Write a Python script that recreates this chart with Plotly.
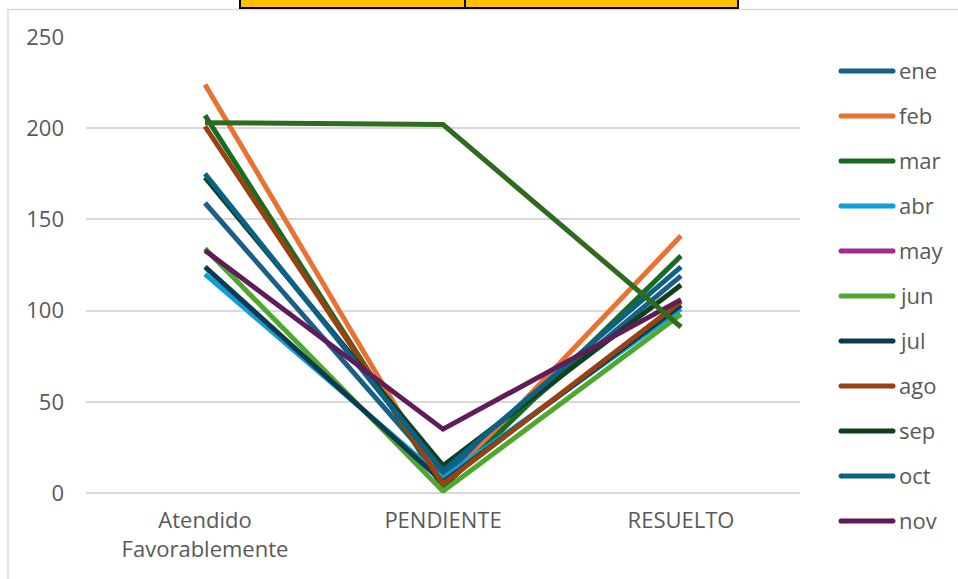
import plotly.graph_objects as go

# Categories on the x axis and their displayed labels
categories = ["Atendido Favorablemente", "PENDIENTE", "RESUELTO"]
tick_labels = ["Atendido<br>Favorablemente", "PENDIENTE", "RESUELTO"]

# Monthly series (Atendido Favorablemente, PENDIENTE, RESUELTO)
months = ["ene", "feb", "mar", "abr", "may", "jun", "jul", "ago", "sep", "oct", "nov", "dic"]
ene = [159, 10, 119]
feb = [224, 4, 141]
mar = [207, 3, 130]
abr = [120, 8, 101]
may = [None, None, None]
jun = [134, 1, 98]
jul = [124, 6, 103]
ago = [201, 5, 105]
sep = [173, 15, 114]
oct_ = [175, 12, 124]
nov = [133, 35, 106]
dic = [203, 202, 91]
series = [ene, feb, mar, abr, may, jun, jul, ago, sep, oct_, nov, dic]

colors = ["#1B5F87", "#E97132", "#196B24", "#0F9ED5", "#A02B93", "#4EA72E",
          "#0E3A50", "#9A4113", "#12401C", "#0A6286", "#601B5A", "#2F6B1F"]
legend_months = months[:11]

y_ticks = [0, 50, 100, 150, 200, 250]

FONT = "Open Sans"
FS = 22
TEXT = "#595959"
GRID = "#D9D9D9"

# plot area in pixels
L, R, T, B = 86, 800, 37, 493
W, H = 958, 579


def px_x(p):
    return (p - L) / (R - L)


def px_y(p):
    return (B - p) / (B - T)


fig = go.Figure()
for name, vals, col in zip(months, series, colors):
    fig.add_trace(go.Scatter(
        x=categories, y=vals, mode="lines", name=name,
        line=dict(color=col, width=5), showlegend=False,
        hoverinfo="x+y+name",
    ))

shapes = []
annotations = []

# outer chart frame (left and top edges)
shapes.append(dict(type="line", xref="paper", yref="paper",
                   x0=px_x(8), x1=px_x(8), y0=px_y(9), y1=px_y(580),
                   line=dict(color=GRID, width=1.5)))
shapes.append(dict(type="line", xref="paper", yref="paper",
                   x0=px_x(8), x1=px_x(960), y0=px_y(9.5), y1=px_y(9.5),
                   line=dict(color=GRID, width=1.5)))

# yellow header cells along the top edge
for x0, x1 in [(240, 465), (465, 738)]:
    shapes.append(dict(type="rect", xref="paper", yref="paper",
                       x0=px_x(x0), x1=px_x(x1), y0=px_y(-3), y1=px_y(8),
                       fillcolor="#FFC000", line=dict(color="#000000", width=2)))

# legend drawn on the right: a rounded line sample and the month name
for i, name in enumerate(legend_months):
    yc = 71 + 45 * i
    shapes.append(dict(type="line", xref="paper", yref="paper",
                       x0=px_x(841), x1=px_x(893), y0=px_y(yc), y1=px_y(yc),
                       line=dict(color=colors[i], width=5)))
    for cx in (841, 893):
        shapes.append(dict(type="circle", xref="paper", yref="paper",
                           x0=px_x(cx - 2.5), x1=px_x(cx + 2.5),
                           y0=px_y(yc + 2.5), y1=px_y(yc - 2.5),
                           fillcolor=colors[i], line=dict(width=0)))
    annotations.append(dict(xref="paper", yref="paper", x=px_x(897), y=px_y(yc - 1),
                            text=name, showarrow=False, xanchor="left", yanchor="middle",
                            font=dict(family=FONT, size=FS, color=TEXT)))

fig.update_layout(
    width=W, height=H,
    margin=dict(l=L, r=W - R, t=T, b=H - B),
    paper_bgcolor="white", plot_bgcolor="white",
    font=dict(family=FONT, size=FS, color=TEXT),
    shapes=shapes, annotations=annotations,
    showlegend=False,
    xaxis=dict(type="category", range=[-0.5, 2.5], tickvals=categories, ticktext=tick_labels,
               showgrid=False, showline=False, zeroline=False, ticks="",
               ticklabelstandoff=12, tickfont=dict(family=FONT, size=FS, color=TEXT)),
    yaxis=dict(range=[0, 250], tickvals=y_ticks, showgrid=True, gridcolor=GRID, gridwidth=1.5,
               zeroline=True, zerolinecolor=GRID, zerolinewidth=1.5, showline=False, ticks="",
               ticklabelstandoff=21, tickfont=dict(family=FONT, size=FS, color=TEXT)),
)

fig.write_html("out.html")
